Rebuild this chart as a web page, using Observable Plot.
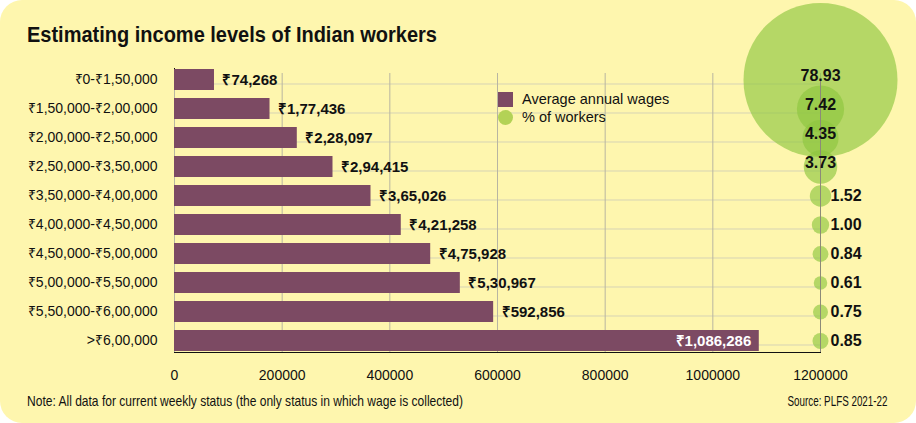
<!DOCTYPE html>
<html>
<head>
<meta charset="utf-8">
<script src="https://cdn.jsdelivr.net/npm/d3@7"></script>
<script src="https://cdn.jsdelivr.net/npm/@observablehq/plot@0.6"></script>
<style>
  html, body { margin: 0; padding: 0; background: #ffffff; }
  #card {
    position: relative; width: 916px; height: 423px; background: #fef6ae;
    border-radius: 22px; overflow: hidden;
    font-family: 'Liberation Sans', Arial, sans-serif;
    color: #111;
  }
  .fit { position: absolute; white-space: nowrap; transform-origin: 0 50%; }
  #title { left: 27px; top: 22px; font-size: 22.5px; font-weight: bold; color: #111; }
  #note { left: 27px; top: 393px; font-size: 14.5px; }
  #source { right: 28px; top: 393px; font-size: 14.5px; transform-origin: 100% 50%; }
  #legend { position: absolute; left: 498px; top: 90px; font-size: 14.5px; }
  #legend .row { display: flex; align-items: center; height: 18px; }
  #legend .sw { width: 15px; height: 15px; margin-right: 9px; }
  #chart { position: absolute; left: 0; top: 0; }
</style>
</head>
<body>
<div id="card">
  <div id="chart"></div>
  <div id="title" class="fit" data-w="410">Estimating income levels of Indian workers</div>
  <div id="legend">
    <div class="row"><div class="sw" style="background:#7c4a63"></div><span>Average annual wages</span></div>
    <div class="row"><div class="sw" style="background:#b3d256;border-radius:50%"></div><span>% of workers</span></div>
  </div>
  <div id="note" class="fit" data-w="436">Note: All data for current weekly status (the only status in which wage is collected)</div>
  <div id="source" class="fit" data-w="100">Source: PLFS 2021-22</div>
</div>
<script>
const categories = [
  "₹0-₹1,50,000",
  "₹1,50,000-₹2,00,000",
  "₹2,00,000-₹2,50,000",
  "₹2,50,000-₹3,50,000",
  "₹3,50,000-₹4,00,000",
  "₹4,00,000-₹4,50,000",
  "₹4,50,000-₹5,00,000",
  "₹5,00,000-₹5,50,000",
  "₹5,50,000-₹6,00,000",
  ">₹6,00,000"
];
const wages = [74268, 177436, 228097, 294415, 365026, 421258, 475928, 530967, 592856, 1086286];
const wageLabels = ["₹74,268", "₹1,77,436", "₹2,28,097", "₹2,94,415", "₹3,65,026", "₹4,21,258", "₹4,75,928", "₹5,30,967", "₹592,856", "₹1,086,286"];
const workersPct = [78.93, 7.42, 4.35, 3.73, 1.52, 1.00, 0.84, 0.61, 0.75, 0.85];
const pctLabels = ["78.93", "7.42", "4.35", "3.73", "1.52", "1.00", "0.84", "0.61", "0.75", "0.85"];
const xTicks = [0, 200000, 400000, 600000, 800000, 1000000, 1200000];
const circleX = 1200000;

const data = categories.map((c, i) => ({
  cat: c, wage: wages[i], wageLabel: wageLabels[i], pct: workersPct[i], pctLabel: pctLabels[i], idx: i
}));
const last = data.length - 1;

const chart = Plot.plot({
  width: 916,
  height: 423,
  marginTop: 68,
  marginBottom: 71,
  marginLeft: 174,
  marginRight: 96,
  style: {
    background: "transparent",
    fontFamily: "'Liberation Sans', Arial, sans-serif",
    fontSize: "14px",
    color: "#111",
    overflow: "visible"
  },
  x: { domain: [0, 1200000], ticks: xTicks, tickFormat: d => String(d), tickSize: 0, tickPadding: 18, label: null, line: true },
  y: { domain: categories, paddingInner: 0.28, paddingOuter: 0.035, tickSize: 0, tickPadding: 17, label: null, line: true },
  r: { domain: [0, 78.93], range: [0, 77] },
  marks: [
    Plot.gridY({ stroke: "#d6d3b4", strokeOpacity: 1, dy: 4 }),
    Plot.gridX({ ticks: xTicks, stroke: "#b8b5a2", strokeOpacity: 1, insetTop: 5 }),
    Plot.barX(data, { x: "wage", y: "cat", fill: "#7c4a63" }),
    Plot.dot(data, { x: () => circleX, y: "cat", r: "pct", fill: "#8dc63f", fillOpacity: 0.65, stroke: null }),
    Plot.ruleX([circleX], { stroke: "#8c8a78", insetTop: 12 }),
    Plot.text(data.filter(d => d.idx !== last), {
      x: "wage", y: "cat", text: "wageLabel", textAnchor: "start", dx: 8, fontWeight: "bold", fontSize: 15, fill: "#111"
    }),
    Plot.text(data.filter(d => d.idx === last), {
      x: "wage", y: "cat", text: "wageLabel", textAnchor: "end", dx: -8, fontWeight: "bold", fontSize: 15, fill: "#ffffff"
    }),
    Plot.text(data.filter(d => d.pct >= 3), {
      x: () => circleX, y: "cat", text: "pctLabel", dy: -4, fontWeight: "bold", fontSize: 16, fill: "#111"
    }),
    Plot.text(data.filter(d => d.pct < 3), {
      x: () => circleX, y: "cat", text: "pctLabel", textAnchor: "start", dx: 10, fontWeight: "bold", fontSize: 16, fill: "#111"
    })
  ]
});
document.getElementById("chart").appendChild(chart);

// compress header/footer text to the reference's condensed widths
document.querySelectorAll(".fit").forEach(el => {
  const w = el.getBoundingClientRect().width;
  const target = +el.dataset.w;
  if (w > 0) el.style.transform = `scaleX(${target / w})`;
});
</script>
</body>
</html>
